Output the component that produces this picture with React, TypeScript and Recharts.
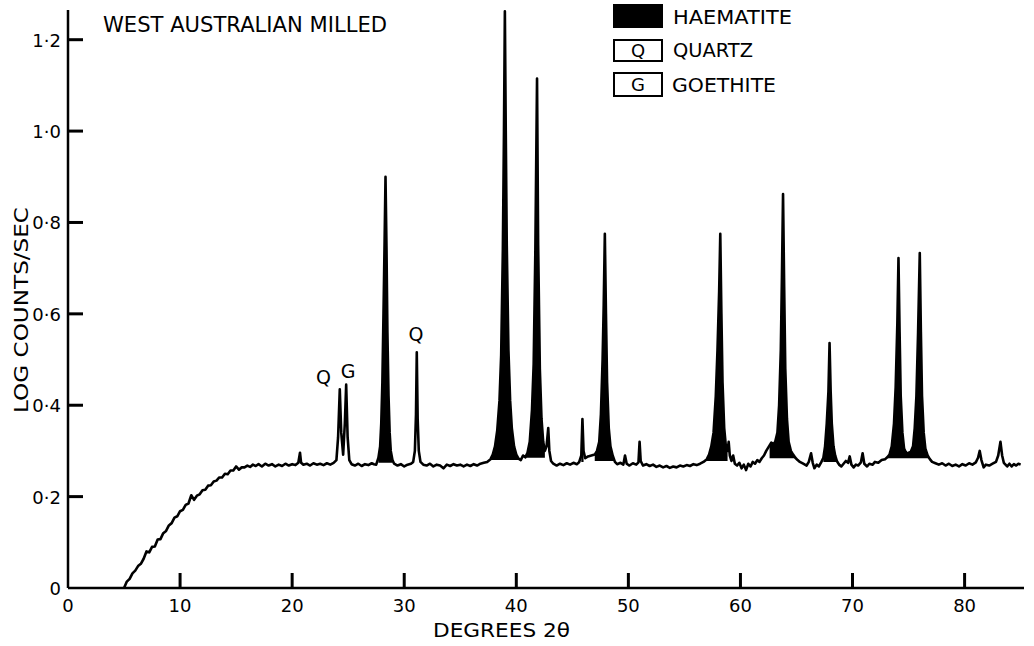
import { ComposedChart, Line, Area, XAxis, YAxis, ReferenceDot } from "recharts";

// diffractometer trace: [degrees 2θ, log counts/sec]
const trace: [number, number][] = [
  [5.0, 0.0], [5.25, 0.014], [5.5, 0.02], [5.75, 0.032], [6.0, 0.038], [6.25, 0.048], [6.5, 0.053], [6.75, 0.064],
  [7.0, 0.08], [7.25, 0.078], [7.5, 0.09], [7.75, 0.091], [8.0, 0.106], [8.25, 0.107], [8.5, 0.12], [8.75, 0.125],
  [9.0, 0.137], [9.25, 0.142], [9.5, 0.154], [9.75, 0.157], [10.0, 0.168], [10.25, 0.171], [10.5, 0.182], [10.75, 0.185],
  [11.0, 0.203], [11.25, 0.193], [11.5, 0.202], [11.75, 0.205], [12.0, 0.214], [12.25, 0.215], [12.5, 0.224], [12.75, 0.225],
  [13.0, 0.233], [13.25, 0.235], [13.5, 0.242], [13.75, 0.242], [14.0, 0.25], [14.25, 0.249], [14.5, 0.257], [14.75, 0.257],
  [15.0, 0.266], [15.25, 0.259], [15.5, 0.264], [15.75, 0.264], [16.0, 0.268], [16.25, 0.265], [16.5, 0.27], [16.75, 0.267], [17.0, 0.271],
  [17.3, 0.266], [17.6, 0.272], [17.9, 0.268], [18.2, 0.271], [18.5, 0.266], [18.8, 0.27], [19.1, 0.267], [19.4, 0.272],
  [19.7, 0.268], [20.0, 0.271], [20.3, 0.269], [20.55, 0.274], [20.7, 0.296], [20.8, 0.274], [21.0, 0.27], [21.3, 0.272],
  [21.6, 0.268], [21.9, 0.273], [22.2, 0.27], [22.5, 0.272], [22.8, 0.269], [23.1, 0.273], [23.4, 0.27], [23.7, 0.274],
  [23.95, 0.28], [24.1, 0.33], [24.25, 0.435], [24.38, 0.34], [24.55, 0.292], [24.7, 0.36], [24.82, 0.445], [24.95, 0.33],
  [25.1, 0.28], [25.3, 0.271], [25.6, 0.268], [25.9, 0.272], [26.2, 0.267], [26.5, 0.271], [26.8, 0.269], [27.1, 0.273],
  [27.3, 0.271], [27.5, 0.27], [27.7, 0.285], [27.85, 0.31], [27.95, 0.36], [28.05, 0.45], [28.15, 0.6], [28.25, 0.76],
  [28.33, 0.9], [28.42, 0.74], [28.5, 0.56], [28.6, 0.42], [28.7, 0.34], [28.8, 0.3], [28.95, 0.28], [29.1, 0.272],
  [29.4, 0.268], [29.7, 0.271], [30.0, 0.266], [30.3, 0.27], [30.6, 0.272], [30.8, 0.276], [30.95, 0.3], [31.05, 0.38],
  [31.12, 0.516], [31.2, 0.37], [31.3, 0.3], [31.45, 0.276], [31.7, 0.27], [32.0, 0.268], [32.3, 0.272], [32.6, 0.266],
  [32.9, 0.27], [33.2, 0.268], [33.5, 0.262], [33.8, 0.27], [34.1, 0.267], [34.4, 0.271], [34.7, 0.268], [35.0, 0.27],
  [35.3, 0.266], [35.6, 0.27], [35.9, 0.267], [36.2, 0.271], [36.5, 0.268], [36.8, 0.272], [37.1, 0.274], [37.4, 0.276],
  [37.7, 0.282], [37.9, 0.292], [38.1, 0.31], [38.3, 0.345], [38.5, 0.41], [38.65, 0.51], [38.8, 0.74], [38.9, 1.0],
  [38.98, 1.262], [39.06, 1.0], [39.15, 0.75], [39.3, 0.52], [39.45, 0.41], [39.6, 0.35], [39.8, 0.31], [40.0, 0.292],
  [40.2, 0.283], [40.4, 0.28], [40.6, 0.29], [40.8, 0.286], [41.0, 0.296], [41.2, 0.32], [41.4, 0.39], [41.55, 0.49],
  [41.7, 0.74], [41.85, 1.115], [41.95, 0.75], [42.1, 0.48], [42.25, 0.37], [42.4, 0.32], [42.55, 0.3], [42.7, 0.31],
  [42.85, 0.35], [42.95, 0.3], [43.1, 0.278], [43.3, 0.272], [43.6, 0.268], [43.9, 0.272], [44.2, 0.269], [44.5, 0.273],
  [44.8, 0.27], [45.1, 0.274], [45.4, 0.271], [45.6, 0.275], [45.8, 0.29], [45.9, 0.37], [46.0, 0.3], [46.15, 0.284],
  [46.4, 0.288], [46.7, 0.29], [47.0, 0.292], [47.2, 0.3], [47.4, 0.32], [47.55, 0.38], [47.7, 0.5], [47.8, 0.62],
  [47.9, 0.775], [48.0, 0.6], [48.1, 0.45], [48.25, 0.35], [48.4, 0.31], [48.6, 0.29], [48.8, 0.276], [49.0, 0.271],
  [49.3, 0.274], [49.55, 0.27], [49.7, 0.29], [49.85, 0.272], [50.1, 0.268], [50.4, 0.273], [50.7, 0.27], [50.9, 0.275],
  [51.0, 0.32], [51.1, 0.278], [51.3, 0.268], [51.6, 0.271], [51.9, 0.267], [52.2, 0.27], [52.5, 0.265], [52.8, 0.268],
  [53.1, 0.264], [53.4, 0.267], [53.7, 0.263], [54.0, 0.266], [54.3, 0.264], [54.6, 0.268], [54.9, 0.266], [55.2, 0.269],
  [55.5, 0.267], [55.8, 0.271], [56.1, 0.269], [56.4, 0.272], [56.7, 0.276], [57.0, 0.282], [57.2, 0.292], [57.4, 0.31],
  [57.6, 0.34], [57.8, 0.42], [57.95, 0.52], [58.1, 0.65], [58.2, 0.775], [58.3, 0.6], [58.4, 0.45], [58.55, 0.35],
  [58.7, 0.31], [58.85, 0.3], [58.95, 0.32], [59.05, 0.29], [59.2, 0.278], [59.35, 0.29], [59.5, 0.272], [59.7, 0.268],
  [59.9, 0.274], [60.1, 0.262], [60.3, 0.27], [60.5, 0.258], [60.7, 0.272], [60.9, 0.266], [61.1, 0.276], [61.3, 0.272],
  [61.5, 0.28], [61.7, 0.276], [61.9, 0.284], [62.1, 0.29], [62.3, 0.3], [62.6, 0.312], [62.75, 0.318], [62.95, 0.315],
  [63.1, 0.32], [63.3, 0.34], [63.45, 0.4], [63.6, 0.52], [63.7, 0.68], [63.8, 0.862], [63.9, 0.66], [64.0, 0.48],
  [64.15, 0.37], [64.3, 0.32], [64.5, 0.3], [64.7, 0.292], [64.9, 0.285], [65.1, 0.28], [65.3, 0.276], [65.6, 0.272],
  [65.9, 0.268], [66.1, 0.276], [66.3, 0.295], [66.45, 0.274], [66.6, 0.262], [66.8, 0.27], [67.0, 0.266], [67.2, 0.275],
  [67.4, 0.285], [67.55, 0.31], [67.7, 0.36], [67.85, 0.43], [67.95, 0.536], [68.05, 0.43], [68.15, 0.36], [68.3, 0.31],
  [68.45, 0.29], [68.6, 0.278], [68.8, 0.27], [69.0, 0.266], [69.2, 0.272], [69.4, 0.278], [69.6, 0.274], [69.75, 0.288],
  [69.9, 0.27], [70.1, 0.264], [70.3, 0.27], [70.5, 0.268], [70.75, 0.275], [70.9, 0.295], [71.05, 0.272], [71.3, 0.266],
  [71.5, 0.272], [71.8, 0.27], [72.0, 0.276], [72.3, 0.274], [72.6, 0.28], [72.9, 0.282], [73.1, 0.286], [73.3, 0.292],
  [73.5, 0.31], [73.7, 0.36], [73.85, 0.44], [74.0, 0.58], [74.1, 0.722], [74.2, 0.56], [74.3, 0.42], [74.45, 0.34],
  [74.6, 0.305], [74.8, 0.295], [75.0, 0.296], [75.2, 0.298], [75.4, 0.31], [75.55, 0.35], [75.7, 0.42], [75.85, 0.56],
  [76.0, 0.733], [76.1, 0.56], [76.2, 0.42], [76.35, 0.34], [76.5, 0.305], [76.7, 0.29], [76.9, 0.282], [77.1, 0.276],
  [77.4, 0.273], [77.7, 0.27], [78.0, 0.273], [78.3, 0.268], [78.6, 0.272], [78.9, 0.267], [79.2, 0.27], [79.5, 0.266],
  [79.8, 0.271], [80.1, 0.268], [80.4, 0.273], [80.7, 0.27], [81.0, 0.275], [81.2, 0.285], [81.35, 0.3], [81.5, 0.28],
  [81.7, 0.264], [81.9, 0.27], [82.2, 0.268], [82.5, 0.272], [82.8, 0.276], [83.0, 0.29], [83.2, 0.32], [83.35, 0.29],
  [83.5, 0.274], [83.8, 0.266], [84.0, 0.272], [84.2, 0.266], [84.4, 0.271], [84.6, 0.268], [84.8, 0.272], [85.0, 0.27],
];

// haematite peaks drawn solid: [from, to, base level]
const haematiteRanges: [number, number, number][] = [
  [27.6, 29.0, 0.274],
  [37.7, 40.2, 0.28],
  [40.8, 42.55, 0.285],
  [45.8, 46.0, 0.276],
  [47.0, 48.8, 0.278],
  [57.0, 58.85, 0.278],
  [62.6, 64.9, 0.284],
  [67.4, 68.6, 0.276],
  [73.1, 76.9, 0.284],
];

// peak labels above the trace
const peakLabels: { x: number; y: number; text: string }[] = [
  { x: 22.8, y: 0.462, text: "Q" },
  { x: 25.0, y: 0.474, text: "G" },
  { x: 31.05, y: 0.555, text: "Q" },
];

const xTicks = [0, 10, 20, 30, 40, 50, 60, 70, 80];
const yTicks = [0, 0.2, 0.4, 0.6, 0.8, 1.0, 1.2];

const data = trace.map(([x, y]) => {
  const r = haematiteRanges.find(([a, b]) => x >= a && x <= b);
  return { x, y, band: r ? [r[2], y] : null };
});

const FONT = "'DejaVu Sans', sans-serif";
const TICK_LEN = 15;

// labels outside, short tick marks pointing into the plot
const XTick = (props: any) => {
  const { x, y, payload } = props;
  return (
    <g>
      {payload.value !== 0 && (
        <line x1={x} y1={y} x2={x} y2={y - TICK_LEN} stroke="#000" strokeWidth={3} />
      )}
      <text x={x} y={y + 24} textAnchor="middle" fontSize={18} fontFamily={FONT} fill="#000">
        {payload.value}
      </text>
    </g>
  );
};

const YTick = (props: any) => {
  const { x, y, payload } = props;
  const label = payload.value === 0 ? "0" : payload.value.toFixed(1).replace(".", "·");
  return (
    <g>
      {payload.value !== 0 && (
        <line x1={x} y1={y} x2={x + TICK_LEN} y2={y} stroke="#000" strokeWidth={3} />
      )}
      <text x={x - 7} y={y + 7} textAnchor="end" fontSize={18} fontFamily={FONT} fill="#000">
        {label}
      </text>
    </g>
  );
};

export default function App() {
  return (
    <div style={{ position: "fixed", left: 0, top: 0, width: 1034, height: 646, background: "#fff" }}>
      <ComposedChart width={1034} height={646} data={data} margin={{ top: 10, right: 10, bottom: 8, left: 8 }}>
        <XAxis
          dataKey="x"
          type="number"
          domain={[0, 85.3]}
          ticks={xTicks}
          tickSize={0}
          tickMargin={0}
          tick={<XTick />}
          tickLine={false}
          axisLine={{ stroke: "#000", strokeWidth: 2.5 }}
          height={50}
        />
        <YAxis
          type="number"
          domain={[0, 1.265]}
          ticks={yTicks}
          tickSize={0}
          tickMargin={0}
          tick={<YTick />}
          tickLine={false}
          axisLine={{ stroke: "#000", strokeWidth: 2.5 }}
          width={60}
          allowDataOverflow
        />
        <Area
          dataKey="band"
          type="linear"
          fill="#000"
          fillOpacity={1}
          stroke="none"
          isAnimationActive={false}
          connectNulls={false}
          dot={false}
          activeDot={false}
        />
        <Line
          dataKey="y"
          type="linear"
          stroke="#000"
          strokeWidth={2.6}
          strokeLinejoin="round"
          dot={false}
          activeDot={false}
          isAnimationActive={false}
        />
        {peakLabels.map((p, i) => (
          <ReferenceDot
            key={i}
            x={p.x}
            y={p.y}
            r={0}
            fill="none"
            stroke="none"
            label={{ value: p.text, position: "center", fontSize: 19, fontFamily: FONT, fill: "#000" }}
          />
        ))}
      </ComposedChart>
      <svg width={1034} height={646} style={{ position: "absolute", left: 0, top: 0, pointerEvents: "none" }}>
        <g fontFamily={FONT} fill="#000">
          <text x={103} y={32} fontSize={21} textLength={284} lengthAdjust="spacingAndGlyphs">
            WEST AUSTRALIAN MILLED
          </text>
          <rect x={613} y={4} width={50} height={24} fill="#000" />
          <text x={673} y={24} fontSize={19} textLength={119} lengthAdjust="spacingAndGlyphs">
            HAEMATITE
          </text>
          <rect x={614} y={40} width={48} height={21} fill="none" stroke="#000" strokeWidth={2} />
          <text x={638} y={57} fontSize={18} textAnchor="middle">Q</text>
          <text x={673} y={57} fontSize={19} textLength={80} lengthAdjust="spacingAndGlyphs">
            QUARTZ
          </text>
          <rect x={614} y={73} width={48} height={23} fill="none" stroke="#000" strokeWidth={2} />
          <text x={638} y={91} fontSize={18} textAnchor="middle">G</text>
          <text x={672} y={92} fontSize={19} textLength={104} lengthAdjust="spacingAndGlyphs">
            GOETHITE
          </text>
          <text
            x={28}
            y={413}
            fontSize={20}
            transform="rotate(-90 28 413)"
            textLength={206}
            lengthAdjust="spacingAndGlyphs"
          >
            LOG COUNTS/SEC
          </text>
          <text x={433} y={637} fontSize={19} textLength={137} lengthAdjust="spacingAndGlyphs">
            DEGREES 2θ
          </text>
        </g>
      </svg>
    </div>
  );
}
